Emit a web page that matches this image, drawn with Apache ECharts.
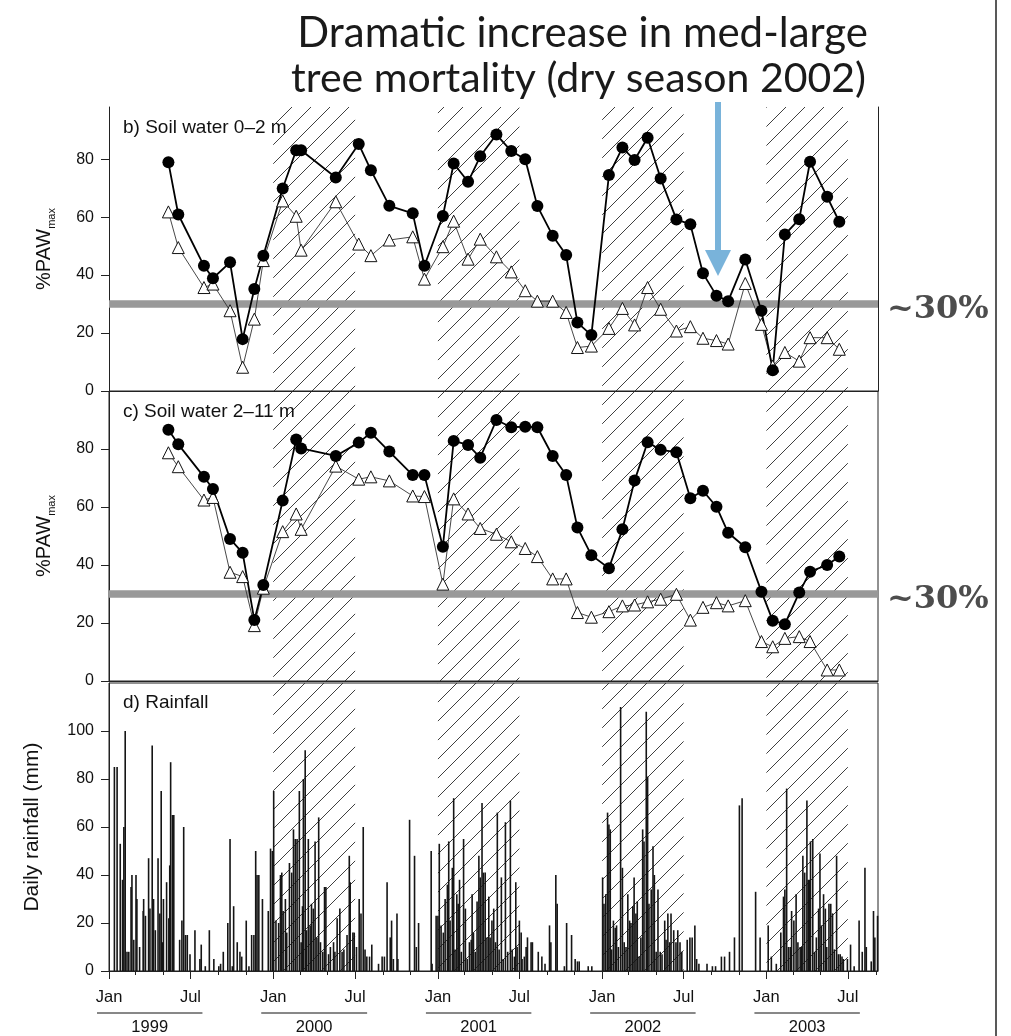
<!DOCTYPE html>
<html>
<head>
<meta charset="utf-8">
<script src="https://cdn.jsdelivr.net/npm/echarts@6/dist/echarts.min.js"></script>
<style>
html, body { margin: 0; padding: 0; background: #fff; }
#chart { width: 1011px; height: 1036px; }
</style>
</head>
<body>
<div id="chart"></div>
<script>
// soil water sampling dates (same for both depths and both plots)
var sampleDates = [
  '1999-05-13', '1999-06-04', '1999-07-31', '1999-08-20', '1999-09-27', '1999-10-25', '1999-11-20', '1999-12-10',
  '2000-01-22', '2000-02-21', '2000-03-03', '2000-05-19', '2000-07-09', '2000-08-05', '2000-09-15', '2000-11-06', '2000-12-02',
  '2001-01-12', '2001-02-05', '2001-03-09', '2001-04-05', '2001-05-11', '2001-06-13', '2001-07-14', '2001-08-10', '2001-09-13', '2001-10-13', '2001-11-07', '2001-12-08',
  '2002-01-16', '2002-02-15', '2002-03-14', '2002-04-12', '2002-05-11', '2002-06-15', '2002-07-16', '2002-08-13', '2002-09-12', '2002-10-08', '2002-11-15', '2002-12-21',
  '2003-01-15', '2003-02-11', '2003-03-15', '2003-04-08', '2003-05-16', '2003-06-12'
];

// %PAWmax, 0-2 m
var control02 = [78.9, 60.9, 43.2, 38.9, 44.4, 17.9, 35.2, 46.7,
  69.9, 83.1, 83.1, 73.7, 85.2, 76.2, 63.9, 61.3, 43.2,
  60.4, 78.5, 72.2, 81, 88.5, 82.8, 80, 63.8, 53.6, 46.9, 23.6, 19.3,
  74.5, 84, 79.7, 87.4, 73.3, 59.2, 57.5, 40.6, 32.9, 31, 45.4, 27.7,
  7.2, 54, 59.3, 79.1, 67, 58.4];
var exclusion02 = [61.8, 49.5, 35.7, 36.9, 27.7, 8.2, 24.8, 45,
  65.6, 60.3, 48.6, 65.3, 50.7, 46.7, 52.1, 53.2, 38.6,
  49.8, 58.6, 45.5, 52.4, 46.3, 41.1, 34.6, 31, 31, 27.1, 15, 15.5,
  21.6, 28.5, 22.8, 35.7, 28.2, 20.7, 22.2, 18.2, 17.4, 16.2, 37.1, 23,
  8.6, 13.3, 10.3, 18.4, 18.4, 14.4];

// %PAWmax, 2-11 m
var control211 = [86.6, 81.6, 70.4, 66.2, 49, 44.2, 21, 33.1,
  62.2, 83.3, 80.2, 77.6, 82.2, 85.6, 79.1, 71, 71,
  46.3, 82.8, 81.4, 77, 90, 87.5, 87.7, 87.5, 77.6, 71, 52.9, 43.4,
  38.9, 52.3, 69.1, 82.3, 79.7, 78.9, 63, 65.6, 60.1, 51.1, 46.1, 30.8,
  20.8, 19.6, 30.5, 37.7, 40, 42.9];
var exclusion211 = [78.7, 73.9, 62.4, 63.3, 37.5, 36, 19.1, 32,
  51.5, 57.6, 52.3, 74.1, 69.6, 70.4, 69, 63.8, 63.6,
  33.4, 62.8, 57.6, 52.6, 50.6, 48, 45.7, 42.9, 35.2, 35.2, 23.6, 22,
  23.9, 25.9, 26.2, 27.3, 28.2, 29.9, 21, 25.4, 27, 25.9, 27.7, 13.6,
  11.8, 14.7, 15.3, 13.6, 3.8, 3.8];

// daily rainfall: [day number counted from 1 Jan 1999, mm]
var rainfall = [
  [12, 85], [18, 85], [25, 53], [30, 38], [33, 60], [36, 100], [40, 8], [44, 8], [49, 35], [51, 40], [55, 13], [60, 40],
  [62, 30], [68, 10], [76, 25], [77, 30], [81, 23], [88, 47], [91, 26], [96, 94], [99, 30], [103, 17], [109, 47], [113, 24],
  [116, 75], [119, 12], [121, 30], [128, 37], [133, 22], [135, 44], [137, 87], [141, 65], [144, 65], [157, 13], [162, 21],
  [166, 60], [170, 15], [174, 15], [180, 7], [191, 17], [202, 5], [205, 11], [214, 2], [223, 17], [233, 5], [244, 2],
  [248, 3], [254, 8], [264, 20], [269, 55], [274, 2], [277, 27], [285, 12], [291, 8], [295, 6], [305, 21], [311, 2],
  [317, 15], [322, 15], [326, 50], [329, 40], [333, 40], [341, 30], [354, 25], [359, 51], [363, 50], [366, 75],
  [371, 21], [377, 20], [381, 40], [384, 41], [387, 25], [392, 30], [395, 16], [401, 45], [406, 41], [410, 59], [414, 55],
  [418, 55], [423, 75], [427, 12], [430, 27], [432, 80], [436, 92], [439, 17], [443, 55], [447, 19], [450, 28], [454, 26],
  [458, 54], [462, 14], [466, 64], [470, 12], [475, 8], [479, 35], [482, 35], [488, 7], [492, 10], [499, 12], [502, 8],
  [507, 22], [513, 26], [518, 8], [522, 9], [529, 15], [534, 48], [536, 37], [542, 16], [545, 16], [550, 10], [556, 30],
  [560, 24], [565, 60], [569, 9], [573, 6], [579, 6], [584, 11], [599, 3], [607, 6], [612, 6], [618, 37], [625, 14],
  [628, 21], [632, 5], [640, 24], [642, 5], [668, 63], [679, 48], [683, 10], [688, 20], [716, 50], [718, 3],
  [727, 23], [731, 23], [734, 53], [738, 19], [743, 16], [747, 30], [752, 36], [755, 54], [758, 21], [763, 43], [766, 72],
  [769, 9], [773, 32], [776, 28], [779, 38], [783, 8], [788, 55], [792, 26], [796, 5], [801, 12], [805, 13], [807, 32],
  [810, 16], [814, 8], [818, 29], [822, 48], [825, 39], [829, 70], [832, 41], [836, 41], [840, 14], [844, 31], [847, 14],
  [851, 21], [855, 26], [859, 12], [863, 66], [867, 9], [872, 39], [876, 5], [881, 62], [886, 8], [892, 71], [896, 9],
  [901, 6], [904, 37], [907, 10], [912, 21], [916, 16], [918, 5], [923, 6], [927, 10], [930, 14], [938, 12], [941, 12],
  [954, 8], [962, 6], [969, 3], [979, 19], [982, 12], [993, 40], [996, 28], [1012, 2], [1017, 20], [1028, 15], [1036, 5],
  [1041, 4], [1045, 4], [1065, 2], [1073, 2],
  [1097, 39], [1100, 28], [1104, 32], [1108, 66], [1111, 61], [1114, 59], [1117, 9], [1121, 21], [1125, 18], [1128, 19],
  [1132, 10], [1137, 110], [1141, 43], [1145, 12], [1149, 10], [1153, 32], [1157, 21], [1160, 20], [1164, 27], [1167, 39],
  [1171, 24], [1174, 29], [1178, 6], [1182, 14], [1186, 59], [1189, 54], [1194, 108], [1197, 81], [1200, 28], [1205, 34],
  [1209, 52], [1212, 40], [1216, 8], [1220, 34], [1225, 8], [1229, 7], [1235, 21], [1238, 13], [1242, 24], [1246, 12],
  [1249, 24], [1255, 17], [1260, 12], [1264, 17], [1269, 12], [1273, 8], [1285, 13], [1291, 14], [1296, 14], [1302, 19],
  [1306, 5], [1311, 3], [1329, 3], [1341, 2], [1348, 2], [1361, 6], [1368, 6], [1379, 8], [1390, 14], [1401, 69],
  [1407, 72], [1437, 33], [1447, 14], [1465, 19], [1472, 6], [1483, 3], [1493, 16], [1499, 31], [1502, 34], [1506, 76],
  [1510, 10], [1514, 10], [1517, 25], [1522, 21], [1527, 32], [1531, 12], [1536, 10], [1539, 10], [1542, 48], [1546, 41],
  [1551, 71], [1554, 38], [1557, 38], [1559, 54], [1564, 55], [1568, 8], [1572, 14], [1577, 26], [1580, 49], [1583, 19],
  [1588, 32], [1592, 26], [1595, 10], [1600, 28], [1604, 28], [1608, 24], [1612, 9], [1617, 48], [1621, 7], [1625, 7],
  [1629, 6], [1632, 5], [1641, 5], [1648, 11], [1656, 2], [1667, 21], [1674, 8], [1680, 43], [1683, 10], [1694, 4],
  [1699, 25], [1702, 14], [1708, 23]
];

// hatched periods (exclusion panels in place)
var hatchStart = ['2000-01-01', '2001-01-01', '2002-01-01', '2003-01-01'];
var hatchEnd = ['2000-07-01', '2001-07-01', '2002-07-01', '2003-07-01'];

var yearLabels = ['1999', '2000', '2001', '2002', '2003'];
var yTicks = [0, 20, 40, 60, 80];
var rainTicks = [0, 20, 40, 60, 80, 100];

var DAY0 = Date.parse('1999-01-01');
function toDay(s) { return (Date.parse(s) - DAY0) / 864e5; }
var xMax = toDay('2003-09-06');

// tick positions: every second month, Jan/Jul get long ticks + labels
var minorTicks = [], majorTicks = [];
yearLabels.forEach(function (yr) {
  ['01', '03', '05', '07', '09', '11'].forEach(function (m) {
    var d = toDay(yr + '-' + m + '-01');
    if (d <= xMax) minorTicks.push(d);
    if ((m === '01' || m === '07') && d <= xMax) majorTicks.push(d);
  });
});

function pairs(vals) {
  return sampleDates.map(function (s, i) { return [toDay(s), vals[i]]; });
}

function makeHatch() {
  var c = document.createElement('canvas');
  c.width = 19; c.height = 19;
  var g = c.getContext('2d');
  g.strokeStyle = '#2a2a2a';
  g.lineWidth = 0.9;
  g.beginPath();
  g.moveTo(0, 19); g.lineTo(19, 0);
  g.moveTo(-2, 2); g.lineTo(2, -2);
  g.moveTo(17, 21); g.lineTo(21, 17);
  g.stroke();
  return c;
}
var hatchImg = makeHatch();

function hatchArea() {
  return {
    silent: true, z: 0,
    itemStyle: { color: { image: hatchImg, repeat: 'repeat' }, opacity: 1, borderWidth: 0 },
    data: hatchStart.map(function (s, i) { return [{ xAxis: toDay(s) }, { xAxis: toDay(hatchEnd[i]) }]; })
  };
}
function line30() {
  return {
    silent: true, z: 1, symbol: 'none', label: { show: false },
    lineStyle: { color: '#999', width: 7.5, type: 'solid' },
    data: [{ yAxis: 30 }]
  };
}

var FONT = 'Liberation Sans';
var ink = '#111';

function plainX(grid) {
  return {
    type: 'value', gridIndex: grid, min: 0, max: xMax,
    axisLine: { show: true, onZero: false, lineStyle: { color: '#222', width: 1 } },
    axisTick: { show: false }, axisLabel: { show: false }, splitLine: { show: false }
  };
}

function leftY(grid, max, ticks, name, gap) {
  return {
    type: 'value', gridIndex: grid, min: 0, max: max, interval: 20,
    name: name, nameLocation: 'middle', nameGap: gap,
    nameTextStyle: {
      color: ink, fontFamily: FONT, fontSize: 21,
      rich: {
        a: { fontSize: 20, fontFamily: FONT, color: ink, lineHeight: 26 },
        b: { fontSize: 11, fontFamily: FONT, color: ink, lineHeight: 11, verticalAlign: 'bottom' }
      }
    },
    axisLine: { show: true, lineStyle: { color: '#222', width: 1 } },
    axisTick: { show: true, length: 8, customValues: ticks, lineStyle: { color: '#222' } },
    axisLabel: {
      margin: 15, fontSize: 16, fontFamily: FONT, color: ink, customValues: ticks,
      formatter: function (v) { return v === max ? '' : v; }
    },
    splitLine: { show: false }
  };
}

var chart = echarts.init(document.getElementById('chart'), null, { renderer: 'canvas' });

var option = {
  animation: false,
  backgroundColor: '#fff',
  textStyle: { fontFamily: FONT },
  grid: [
    { left: 109, right: 133, top: 107, height: 284 },
    { left: 109, right: 133, top: 391, height: 290, show: true, borderColor: '#222', borderWidth: 1 },
    { left: 109, right: 133, top: 683, height: 288, show: true, borderColor: '#222', borderWidth: 1 }
  ],
  xAxis: [
    plainX(0),
    plainX(1),
    {
      type: 'value', gridIndex: 2, min: 0, max: xMax, interval: 365.25 / 6, position: 'bottom',
      axisLine: { show: true, onZero: false, lineStyle: { color: '#222', width: 1 } },
      axisTick: { show: true, length: 4, customValues: minorTicks, lineStyle: { color: '#222' } },
      axisLabel: { show: false }, splitLine: { show: false }
    },
    {
      type: 'value', gridIndex: 2, min: 0, max: xMax, interval: 365.25 / 2, position: 'bottom', offset: 0,
      axisLine: { show: false, onZero: false },
      axisTick: { show: true, length: 8, customValues: majorTicks, lineStyle: { color: '#222' } },
      axisLabel: {
        margin: 18, fontSize: 16.5, fontFamily: FONT, color: ink, customValues: majorTicks,
        formatter: function (v) {
          var m = new Date(DAY0 + v * 864e5).getUTCMonth();
          return m === 0 ? 'Jan' : (m === 6 ? 'Jul' : '');
        }
      },
      splitLine: { show: false }
    }
  ],
  yAxis: [
    leftY(0, 98, yTicks, '{a|%PAW}{b|max}', 52),
    {
      type: 'value', gridIndex: 0, position: 'right', min: 0, max: 98,
      axisLine: { show: true, lineStyle: { color: '#222', width: 1 } },
      axisTick: { show: false }, axisLabel: { show: false }, splitLine: { show: false }
    },
    leftY(1, 100, yTicks, '{a|%PAW}{b|max}', 52),
    leftY(2, 120, rainTicks, 'Daily rainfall (mm)', 66)
  ],
  series: [
    {
      name: 'exclusion 0-2 m', type: 'line', xAxisIndex: 0, yAxisIndex: 0, data: pairs(exclusion02),
      symbol: 'triangle', symbolSize: 12, showAllSymbol: true,
      itemStyle: { color: '#fff', borderColor: '#111', borderWidth: 1 },
      lineStyle: { color: '#333', width: 0.9 },
      markArea: hatchArea(), markLine: line30()
    },
    {
      name: 'control 0-2 m', type: 'line', xAxisIndex: 0, yAxisIndex: 0, data: pairs(control02),
      symbol: 'circle', symbolSize: 12, showAllSymbol: true,
      itemStyle: { color: '#000' }, lineStyle: { color: '#000', width: 1.8 }
    },
    {
      name: 'exclusion 2-11 m', type: 'line', xAxisIndex: 1, yAxisIndex: 2, data: pairs(exclusion211),
      symbol: 'triangle', symbolSize: 12, showAllSymbol: true,
      itemStyle: { color: '#fff', borderColor: '#111', borderWidth: 1 },
      lineStyle: { color: '#333', width: 0.9 },
      markArea: hatchArea(), markLine: line30()
    },
    {
      name: 'control 2-11 m', type: 'line', xAxisIndex: 1, yAxisIndex: 2, data: pairs(control211),
      symbol: 'circle', symbolSize: 12, showAllSymbol: true,
      itemStyle: { color: '#000' }, lineStyle: { color: '#000', width: 1.8 }
    },
    {
      name: 'rainfall', type: 'bar', xAxisIndex: 2, yAxisIndex: 3, data: rainfall,
      barWidth: 1.6, itemStyle: { color: '#151515' },
      markArea: hatchArea()
    }
  ]
};
chart.setOption(option);

// annotations
var graphics = [
  { type: 'text', x: 868, y: 33, style: { text: 'Dramatic increase in med-large', font: '42px Lato', fill: '#1a1a1a', align: 'right', verticalAlign: 'middle' } },
  { type: 'text', x: 866, y: 79, style: { text: 'tree mortality (dry season 2002)', font: '41px Lato', fill: '#1a1a1a', align: 'right', verticalAlign: 'middle' } },
  { type: 'rect', shape: { x: 715, y: 102, width: 6, height: 152 }, style: { fill: '#79b3da' }, z: 100 },
  { type: 'polygon', shape: { points: [[705, 250], [731, 250], [718, 276]] }, style: { fill: '#79b3da' }, z: 100 },
  { type: 'text', x: 887, y: 310, style: { text: '~30%', font: 'bold 32px "DejaVu Serif"', fill: '#4d4d4d', align: 'left', verticalAlign: 'middle' } },
  { type: 'text', x: 887, y: 600, style: { text: '~30%', font: 'bold 32px "DejaVu Serif"', fill: '#4d4d4d', align: 'left', verticalAlign: 'middle' } },
  { type: 'line', shape: { x1: 996, y1: 0, x2: 996, y2: 1036 }, style: { stroke: '#222', lineWidth: 1.5 } },
  { type: 'text', x: 123, y: 128, style: { text: 'b) Soil water 0\u20132 m', font: '19px "Liberation Sans"', fill: ink, verticalAlign: 'middle' } },
  { type: 'text', x: 123, y: 412, style: { text: 'c) Soil water 2\u201311 m', font: '19px "Liberation Sans"', fill: ink, verticalAlign: 'middle' } },
  { type: 'text', x: 123, y: 703, style: { text: 'd) Rainfall', font: '19px "Liberation Sans"', fill: ink, verticalAlign: 'middle' } }
];
yearLabels.forEach(function (yr) {
  var x0 = chart.convertToPixel({ xAxisIndex: 2 }, toDay(yr + '-01-01')) - 12;
  var x1 = chart.convertToPixel({ xAxisIndex: 2 }, toDay(yr + '-07-01')) + 12;
  graphics.push({ type: 'line', shape: { x1: x0, y1: 1013, x2: x1, y2: 1013 }, style: { stroke: '#111', lineWidth: 1 } });
  graphics.push({ type: 'text', x: (x0 + x1) / 2, y: 1027, style: { text: yr, font: '16.5px "Liberation Sans"', fill: ink, align: 'center', verticalAlign: 'middle' } });
});
chart.setOption({ graphic: graphics });
</script>
</body>
</html>
